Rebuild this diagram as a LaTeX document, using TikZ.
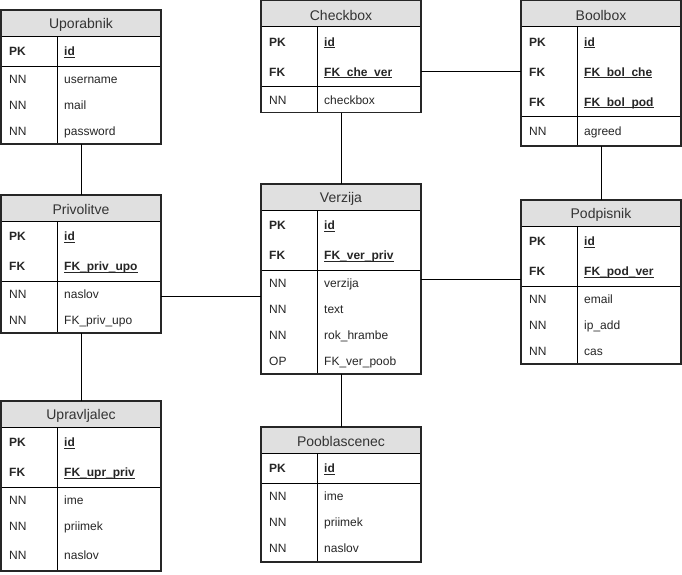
\documentclass[tikz,border=0pt]{standalone}
\usepackage{fontspec}
\setmainfont{Liberation Sans}

% underline that sits just under the baseline, through the underscores
\newcommand\keyul[1]{\setbox0\hbox{#1}\rlap{\rule[-1.9pt]{\wd0}{0.8pt}}\box0}

% one table: #1 name, #2 left, #3 top, #4 height, #5 title, #6 y of the key/field separator
\newcommand\ertable[6]{%
  \node[tframe, minimum height=#4pt] (#1) at (#2,#3) {};
  \fill[hdrfill] (#1.north west) rectangle ([yshift=-26pt]#1.north east);
  \node[titletext] (#1t) at ([yshift=-14.5pt]#1.north) {#5};
  \draw[gridline] ([yshift=-26pt]#1.north west) -- ([yshift=-26pt]#1.north east);
  \draw[gridline] ([xshift=56pt,yshift=-26pt]#1.north west) -- ([xshift=56pt]#1.south west);
  \draw[gridline] (#2,#6) -- (#2+160,#6);
  \draw[border] (#1.north west) rectangle (#1.south east);
}
% one row: #1 name, #2 left, #3 top, #4 height, #5 key column, #6 field column
\newcommand\errow[6]{%
  \node[rowbox, minimum height=#4pt] (#1) at (#2,#3) {};
  \node[celltext] (#1k) at ([xshift=8pt,yshift=-1.6pt]#1.west) {#5};
  \node[celltext] (#1f) at ([xshift=63pt,yshift=-1.6pt]#1.west) {#6};
}
\newcommand\pk{\textbf{PK}}
\newcommand\fk{\textbf{FK}}
\newcommand\kid[1]{\textbf{\keyul{#1}}}

\begin{document}
\begin{tikzpicture}[x=1pt,y=-1pt,
  tframe/.style={fill=white, inner sep=0pt, outer sep=0pt, anchor=north west, minimum width=160pt},
  rowbox/.style={inner sep=0pt, outer sep=0pt, anchor=north west, minimum width=160pt},
  hdrfill/.style={fill=black!12},
  border/.style={draw=black!85, line width=1.6pt},
  gridline/.style={draw=black, line width=0.9pt},
  conn/.style={draw=black, line width=0.9pt},
  titletext/.style={font=\fontsize{14}{16}\selectfont, text=black!80, inner sep=0pt},
  celltext/.style={font=\fontsize{12}{14}\selectfont, text=black!85, anchor=west, inner sep=0pt, text height=8.6pt, text depth=2.6pt}
]
\useasboundingbox (0,0) rectangle (682,574);

% Uporabnik
\ertable{upo}{1}{10}{134}{Uporabnik}{66}
\errow{upo1}{1}{36}{30}{\pk}{\kid{id}}
\errow{upo2}{1}{66}{26}{NN}{username}
\errow{upo3}{1}{92}{26}{NN}{mail}
\errow{upo4}{1}{118}{26}{NN}{password}

% Checkbox
\ertable{che}{261}{0.5}{112}{Checkbox}{86.5}
\errow{che1}{261}{26.5}{30}{\pk}{\kid{id}}
\errow{che2}{261}{56.5}{30}{\fk}{\kid{FK\_che\_ver}}
\errow{che3}{261}{86.5}{26}{NN}{checkbox}

% Boolbox
\ertable{bol}{521}{0.5}{145.5}{Boolbox}{116.5}
\errow{bol1}{521}{26.5}{30}{\pk}{\kid{id}}
\errow{bol2}{521}{56.5}{30}{\fk}{\kid{FK\_bol\_che}}
\errow{bol3}{521}{86.5}{30}{\fk}{\kid{FK\_bol\_pod}}
\errow{bol4}{521}{116.5}{28}{NN}{agreed}

% Privolitve
\ertable{priv}{1}{195}{138}{Privolitve}{281}
\errow{priv1}{1}{221}{30}{\pk}{\kid{id}}
\errow{priv2}{1}{251}{30}{\fk}{\kid{FK\_priv\_upo}}
\errow{priv3}{1}{281}{26}{NN}{naslov}
\errow{priv4}{1}{307}{26}{NN}{FK\_priv\_upo}

% Verzija
\ertable{ver}{261}{184}{190}{Verzija}{270}
\errow{ver1}{261}{210}{30}{\pk}{\kid{id}}
\errow{ver2}{261}{240}{30}{\fk}{\kid{FK\_ver\_priv}}
\errow{ver3}{261}{270}{26}{NN}{verzija}
\errow{ver4}{261}{296}{26}{NN}{text}
\errow{ver5}{261}{322}{26}{NN}{rok\_hrambe}
\errow{ver6}{261}{348}{26}{OP}{FK\_ver\_poob}

% Podpisnik
\ertable{pod}{521}{200}{164}{Podpisnik}{286}
\errow{pod1}{521}{226}{30}{\pk}{\kid{id}}
\errow{pod2}{521}{256}{30}{\fk}{\kid{FK\_pod\_ver}}
\errow{pod3}{521}{286}{26}{NN}{email}
\errow{pod4}{521}{312}{26}{NN}{ip\_add}
\errow{pod5}{521}{338}{26}{NN}{cas}

% Upravljalec
\ertable{upr}{1}{401}{170}{Upravljalec}{487}
\errow{upr1}{1}{427}{30}{\pk}{\kid{id}}
\errow{upr2}{1}{457}{30}{\fk}{\kid{FK\_upr\_priv}}
\errow{upr3}{1}{487}{26}{NN}{ime}
\errow{upr4}{1}{513}{26}{NN}{priimek}
\errow{upr5}{1}{539}{32}{NN}{naslov}

% Pooblascenec
\ertable{poo}{261}{427}{135}{Pooblascenec}{483}
\errow{poo1}{261}{453}{30}{\pk}{\kid{id}}
\errow{poo2}{261}{483}{26}{NN}{ime}
\errow{poo3}{261}{509}{26}{NN}{priimek}
\errow{poo4}{261}{535}{26}{NN}{naslov}

% relations
\draw[conn] (upo.south) -- (priv.north);
\draw[conn] (priv.south) -- (upr.north);
\draw[conn] (ver3.south -| priv.east) -- (ver3.south -| ver.west);
\draw[conn] (che2.east) -- (bol2.west);
\draw[conn] (che.south) -- (ver.north);
\draw[conn] (bol.south) -- (pod.north);
\draw[conn] (ver.east) -- (ver.east -| pod.west);
\draw[conn] (ver.south) -- (poo.north);
\end{tikzpicture}
\end{document}
